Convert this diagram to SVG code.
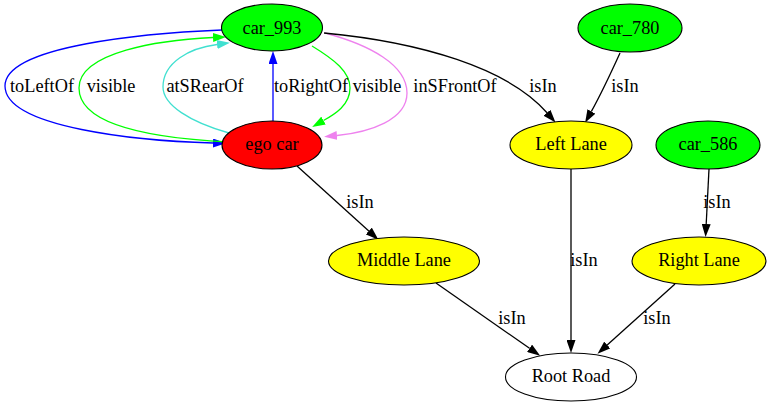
<svg xmlns="http://www.w3.org/2000/svg" width="771" height="407" viewBox="0 0 771 407">
  <style>
    .lbl { text-anchor: middle; }
    .node ellipse { stroke: #000; stroke-width: 1.1; }
    .node text { text-anchor: middle; }
    .edge { fill: none; stroke-width: 1.3; }
  </style>
  <defs>
    <marker id="ah-black" viewBox="0 0 13 9" refX="0" refY="4.5" markerWidth="13" markerHeight="9" markerUnits="userSpaceOnUse" orient="auto">
      <path d="M0,0 L13,4.5 L0,9 Z" fill="#000"/>
    </marker>
    <marker id="ah-blue" viewBox="0 0 13 9" refX="0" refY="4.5" markerWidth="13" markerHeight="9" markerUnits="userSpaceOnUse" orient="auto">
      <path d="M0,0 L13,4.5 L0,9 Z" fill="#0000ff"/>
    </marker>
    <marker id="ah-green" viewBox="0 0 13 9" refX="0" refY="4.5" markerWidth="13" markerHeight="9" markerUnits="userSpaceOnUse" orient="auto">
      <path d="M0,0 L13,4.5 L0,9 Z" fill="#00ff00"/>
    </marker>
    <marker id="ah-turq" viewBox="0 0 13 9" refX="0" refY="4.5" markerWidth="13" markerHeight="9" markerUnits="userSpaceOnUse" orient="auto">
      <path d="M0,0 L13,4.5 L0,9 Z" fill="#40e0d0"/>
    </marker>
    <marker id="ah-violet" viewBox="0 0 13 9" refX="0" refY="4.5" markerWidth="13" markerHeight="9" markerUnits="userSpaceOnUse" orient="auto">
      <path d="M0,0 L13,4.5 L0,9 Z" fill="#ee82ee"/>
    </marker>
  </defs>
  <rect width="771" height="407" fill="#fff"/>

  <g font-family="'Liberation Serif', 'Times New Roman', serif" font-size="18.3" fill="#000">
  <!-- connectors -->
  <g id="edges">
    <path class="edge" stroke="#0000ff" marker-end="url(#ah-blue)" d="M222,30 C150,33 5,45 5,86 C5,128 140,141 213,143"/>
    <path class="edge" stroke="#00ff00" marker-end="url(#ah-green)" d="M228,142 C150,138 79,125 79,88 C79,52 160,40 213,37.5"/>
    <path class="edge" stroke="#40e0d0" marker-end="url(#ah-turq)" d="M229,133 C190,122 163,105 163,87 C163,62 190,48 217,44.5"/>
    <path class="edge" stroke="#0000ff" marker-end="url(#ah-blue)" d="M273,121 L273,64"/>
    <path class="edge" stroke="#00ff00" marker-end="url(#ah-green)" d="M312,46 C335,60 350,72 350,88 C350,105 335,114 323.5,120.5"/>
    <path class="edge" stroke="#ee82ee" marker-end="url(#ah-violet)" d="M325,33 C370,45 407,65 407,93 C407,120 370,132 337,135.5"/>
    <path class="edge" stroke="#000" marker-end="url(#ah-black)" d="M324,33 C420,42 508,68 547,112.7"/>
    <path class="edge" stroke="#000" marker-end="url(#ah-black)" d="M620,53 C610,75 601,94 591.4,111.4"/>
    <path class="edge" stroke="#000" marker-end="url(#ah-black)" d="M709,169 L706.2,224"/>
    <path class="edge" stroke="#000" marker-end="url(#ah-black)" d="M297,166 L368.8,231"/>
    <path class="edge" stroke="#000" marker-end="url(#ah-black)" d="M571,168 L571,340"/>
    <path class="edge" stroke="#000" marker-end="url(#ah-black)" d="M436,283 L529.5,348.3"/>
    <path class="edge" stroke="#000" marker-end="url(#ah-black)" d="M675,284 L607.2,345"/>

    <text class="lbl" x="42" y="92">toLeftOf</text>
    <text class="lbl" x="111" y="92">visible</text>
    <text class="lbl" x="205" y="92">atSRearOf</text>
    <text class="lbl" x="311" y="92">toRightOf</text>
    <text class="lbl" x="377" y="92">visible</text>
    <text class="lbl" x="455" y="92">inSFrontOf</text>
    <text class="lbl" x="543" y="92">isIn</text>
    <text class="lbl" x="625" y="92">isIn</text>
    <text class="lbl" x="717" y="208">isIn</text>
    <text class="lbl" x="360" y="208">isIn</text>
    <text class="lbl" x="584" y="266">isIn</text>
    <text class="lbl" x="512" y="324">isIn</text>
    <text class="lbl" x="657" y="324">isIn</text>
  </g>

  <!-- nodes -->
  <g id="car_993" class="node">
    <ellipse cx="272" cy="27.5" rx="50.5" ry="23.5" fill="#00ff00"/>
    <text x="272" y="34">car_993</text>
  </g>
  <g id="ego_car" class="node">
    <ellipse cx="272" cy="145" rx="50" ry="24" fill="#ff0000"/>
    <text x="272" y="150">ego car</text>
  </g>
  <g id="car_780" class="node">
    <ellipse cx="630" cy="28" rx="52" ry="24" fill="#00ff00"/>
    <text x="630" y="34">car_780</text>
  </g>
  <g id="left_lane" class="node">
    <ellipse cx="571" cy="145" rx="61" ry="24" fill="#ffff00"/>
    <text x="571" y="150">Left Lane</text>
  </g>
  <g id="car_586" class="node">
    <ellipse cx="708" cy="145" rx="52" ry="24" fill="#00ff00"/>
    <text x="708" y="150">car_586</text>
  </g>
  <g id="middle_lane" class="node">
    <ellipse cx="404" cy="261" rx="75.5" ry="24" fill="#ffff00"/>
    <text x="404" y="266">Middle Lane</text>
  </g>
  <g id="right_lane" class="node">
    <ellipse cx="699" cy="261" rx="67" ry="24" fill="#ffff00"/>
    <text x="699" y="266">Right Lane</text>
  </g>
  <g id="root_road" class="node">
    <ellipse cx="571" cy="377" rx="65.5" ry="24" fill="#ffffff"/>
    <text x="571" y="382">Root Road</text>
  </g>
  </g>
</svg>
